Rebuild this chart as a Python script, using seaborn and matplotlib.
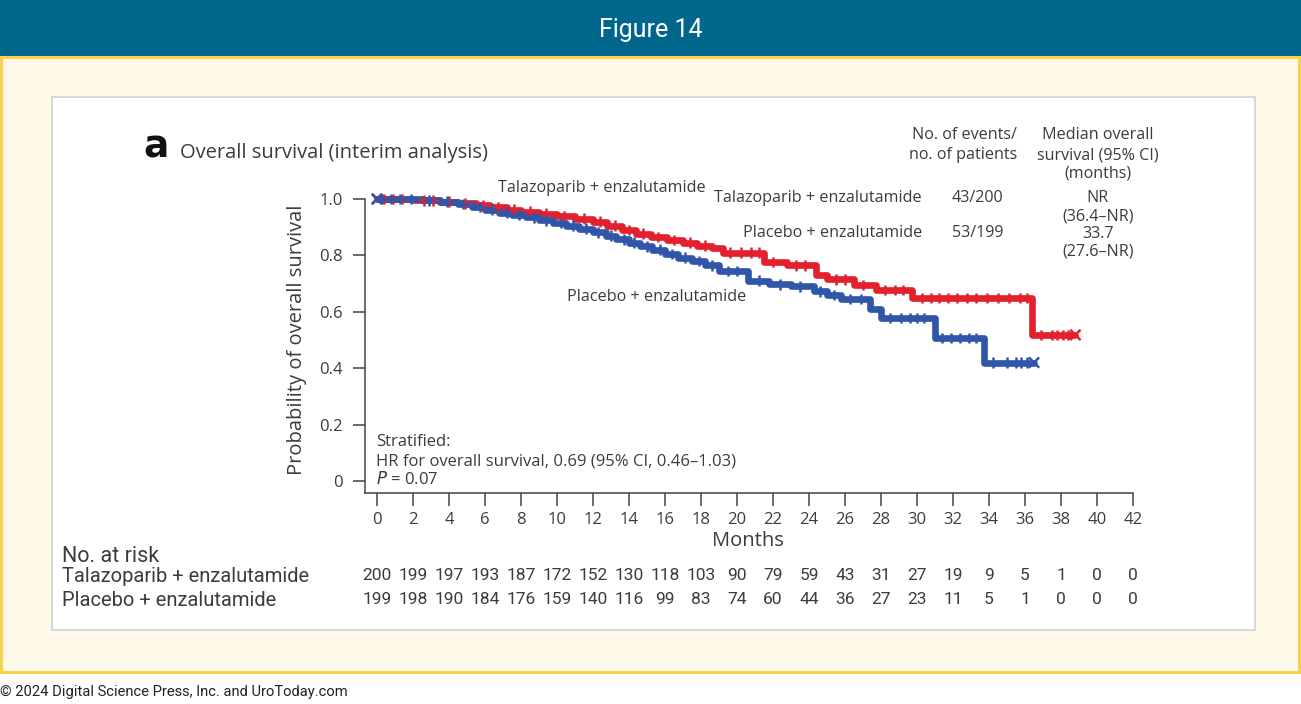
import numpy as np
import pandas as pd
import matplotlib
matplotlib.use("Agg")
import matplotlib.pyplot as plt
import matplotlib.transforms as mtransforms
from matplotlib.patches import Rectangle
import seaborn as sns

# ---------------------------------------------------------
# Data
# ---------------------------------------------------------
arms = ["Talazoparib + enzalutamide", "Placebo + enzalutamide"]

# Kaplan-Meier steps (month, survival) for each arm
tal_time = [0, 2.0, 3.5, 4.5, 5.5, 6.3, 7.2, 8.0, 9.0, 10.0, 11.0, 12.0, 12.8, 13.6,
            14.4, 15.2, 16.1, 17.0, 17.8, 18.6, 19.2, 21.5, 22.8, 24.4, 25.0, 26.5,
            27.7, 29.7, 36.4]
tal_surv = [1.0, 0.995, 0.99, 0.985, 0.978, 0.97, 0.962, 0.955, 0.948, 0.94, 0.93,
            0.92, 0.905, 0.89, 0.877, 0.865, 0.855, 0.845, 0.835, 0.825, 0.81, 0.777,
            0.765, 0.73, 0.715, 0.695, 0.677, 0.649, 0.518]
tal_end = 38.8

pla_time = [0, 2.5, 3.5, 4.5, 5.3, 6.0, 6.8, 7.5, 8.3, 9.0, 9.8, 10.5, 11.2, 12.0,
            12.7, 13.3, 14.0, 14.6, 15.3, 16.0, 16.7, 17.5, 18.2, 19.0, 20.6, 21.8,
            23.0, 24.3, 25.0, 25.8, 27.4, 28.0, 31.0, 33.7]
pla_surv = [1.0, 0.995, 0.99, 0.982, 0.972, 0.962, 0.952, 0.944, 0.935, 0.925, 0.915,
            0.905, 0.895, 0.882, 0.87, 0.857, 0.845, 0.832, 0.82, 0.805, 0.792, 0.78,
            0.765, 0.745, 0.71, 0.697, 0.69, 0.672, 0.66, 0.645, 0.61, 0.578, 0.507,
            0.42]
pla_end = 36.5

# censoring ticks
tal_censor = [0.4, 0.9, 1.4, 2.6, 3.1, 4.0, 4.9, 5.9, 6.7, 7.6, 8.5, 9.4, 10.4, 11.5,
              12.4, 13.2, 14.0, 14.8, 15.6, 16.5, 17.4, 18.2, 19.6, 20.2, 20.8, 21.2,
              22.0, 23.3, 23.8, 25.5, 26.0, 27.0, 28.2, 28.8, 29.2, 30.3, 30.8, 31.2,
              31.7, 32.2, 32.8, 33.3, 33.9, 34.5, 35.1, 35.7, 36.1, 36.9, 37.5, 37.8,
              38.1, 38.4]
pla_censor = [0.3, 0.8, 1.3, 1.9, 2.9, 3.9, 4.8, 5.7, 6.4, 7.2, 7.9, 8.7, 9.4, 10.2,
              10.9, 11.6, 12.3, 13.0, 13.7, 14.3, 15.0, 15.7, 16.4, 17.1, 17.9, 18.6,
              19.5, 20.0, 21.2, 22.4, 23.5, 24.6, 25.4, 26.3, 26.9, 28.5, 29.1, 29.6,
              30.0, 30.4, 31.4, 31.9, 32.4, 32.9, 33.3, 34.2, 35.0, 35.5, 35.8, 36.1]

# number at risk
risk_months = list(range(0, 43, 2))
risk_tal = [200, 199, 197, 193, 187, 172, 152, 130, 118, 103, 90, 79, 59, 43, 31, 27,
            19, 9, 5, 1, 0, 0]
risk_pla = [199, 198, 190, 184, 176, 159, 140, 116, 99, 83, 74, 60, 44, 36, 27, 23,
            11, 5, 1, 0, 0, 0]

y_ticks = [0, 0.2, 0.4, 0.6, 0.8, 1.0]
y_ticklabels = ["0", "0.2", "0.4", "0.6", "0.8", "1.0"]

colors = {arms[0]: "#E3202E", arms[1]: "#2F56A8"}
TXT = "#3c3c3c"

# ---------------------------------------------------------
# Build long-form tables
# ---------------------------------------------------------
curves = []
cens = []
ends = []
for arm, t, s, tend, cz in [(arms[0], tal_time, tal_surv, tal_end, tal_censor),
                            (arms[1], pla_time, pla_surv, pla_end, pla_censor)]:
    tt = list(t) + [tend]
    ss = list(s) + [s[-1]]
    curves.append(pd.DataFrame({"month": tt, "surv": ss, "arm": arm}))
    idx = np.searchsorted(t, cz, side="right") - 1
    cens.append(pd.DataFrame({"month": cz, "surv": np.array(s)[idx], "arm": arm}))
    ends.append(pd.DataFrame({"month": [t[0], tend], "surv": [s[0], s[-1]], "arm": arm}))
curve_df = pd.concat(curves, ignore_index=True)
cens_df = pd.concat(cens, ignore_index=True)
end_df = pd.concat(ends, ignore_index=True)

# ---------------------------------------------------------
# Figure
# ---------------------------------------------------------
sns.set_theme(style="ticks")
plt.rcParams["font.family"] = ["Open Sans", "DejaVu Sans"]

W, H = 1301, 704
fig = plt.figure(figsize=(W / 100, H / 100), dpi=100)
fig.patch.set_facecolor("white")


def px_rect(x0, y0, x1, y1, **kw):
    fig.patches.append(Rectangle((x0 / W, 1 - y1 / H), (x1 - x0) / W, (y1 - y0) / H,
                                 transform=fig.transFigure, figure=fig, zorder=-10, **kw))


def ftxt(x, y, s, **kw):
    kw.setdefault("va", "center")
    kw.setdefault("color", TXT)
    return fig.text(x / W, 1 - y / H, s, **kw)


narrow = ["Roboto", "DejaVu Sans"]

# page frame
px_rect(0, 0, 1301, 56, facecolor="#00668B", edgecolor="none")
px_rect(1, 57, 1299, 672, facecolor="#FFF9EA", edgecolor="#F8D24C", lw=2.2)
px_rect(52, 97, 1255, 630, facecolor="white", edgecolor="#D2D2D2", lw=1.2)
ftxt(651, 30, "Figure 14", ha="center", color="white", fontsize=18, family=narrow)
ftxt(0, 692, "\u00a9 2024 Digital Science Press, Inc. and UroToday.com", ha="left",
     color="#222222", fontsize=10.6, family=narrow)

# axes: pixel geometry
x0_px, x1_px, yb_px, yt_px = 365, 1140, 493, 185
ax = fig.add_axes([x0_px / W, 1 - yb_px / H, (x1_px - x0_px) / W, (yb_px - yt_px) / H])
ax.patch.set_alpha(0)
px_per_month = 18.0
px_per_unit = 282.0
xlo = (x0_px - 377) / px_per_month
xhi = (x1_px - 377) / px_per_month
ylo = (481 - yb_px) / px_per_unit
yhi = (481 - yt_px) / px_per_unit

sns.lineplot(data=curve_df, x="month", y="surv", hue="arm", palette=colors,
             drawstyle="steps-post", estimator=None, sort=False, lw=4.8,
             legend=False, ax=ax)
sns.scatterplot(data=cens_df, x="month", y="surv", hue="arm", palette=colors,
                marker="+", s=60, linewidth=1.8, legend=False, ax=ax, zorder=3)
sns.scatterplot(data=end_df, x="month", y="surv", hue="arm", palette=colors,
                marker="x", s=55, linewidth=1.8, legend=False, ax=ax, zorder=3)

ax.set_xlim(xlo, xhi)
ax.set_ylim(ylo, yhi)
sns.despine(ax=ax)
ax.spines["left"].set_bounds(ylo, 1.0)
ax.spines["bottom"].set_bounds(xlo, 42)
for sp in ("left", "bottom"):
    ax.spines[sp].set_color("#444444")
    ax.spines[sp].set_linewidth(1.1)
ax.set_xticks(risk_months)
ax.set_xticklabels([str(m) for m in risk_months])
ax.set_yticks(y_ticks)
ax.set_yticklabels(y_ticklabels)
ax.tick_params(axis="both", length=9, width=1.1, color="#444444", labelcolor=TXT,
               labelsize=12)
ax.tick_params(axis="x", pad=5)
ax.tick_params(axis="y", pad=7)
ax.set_xlabel("")
ax.set_ylabel("")

ftxt(748, 541, "Months", ha="center", fontsize=14.5)
ftxt(297, 340, "Probability of overall survival", ha="center", rotation=90, fontsize=14.5)

# titles
ftxt(143, 148, "a", ha="left", fontsize=27, fontweight="bold", color="#111111",
     family=["DejaVu Sans"])
ftxt(180, 153, "Overall survival (interim analysis)", ha="left", fontsize=14.5)

# header table
fs = 11.6
ftxt(1017, 135, "No. of events/", ha="right", fontsize=fs)
ftxt(1017, 155, "no. of patients", ha="right", fontsize=fs)
ftxt(1098, 135, "Median overall", ha="center", fontsize=fs)
ftxt(1098, 155, "survival (95% CI)", ha="center", fontsize=fs)
ftxt(1098, 174, "(months)", ha="center", fontsize=fs)
ftxt(922, 198, arms[0], ha="right", fontsize=fs)
ftxt(952, 198, "43/200", ha="left", fontsize=fs)
ftxt(1098, 198, "NR", ha="center", fontsize=fs)
ftxt(1098, 216, "(36.4\u2013NR)", ha="center", fontsize=fs)
ftxt(922, 233, arms[1], ha="right", fontsize=fs)
ftxt(952, 233, "53/199", ha="left", fontsize=fs)
ftxt(1098, 234, "33.7", ha="center", fontsize=fs)
ftxt(1098, 252, "(27.6\u2013NR)", ha="center", fontsize=fs)

# curve labels
ftxt(602, 188, arms[0], ha="center", fontsize=fs)
ftxt(657, 297, arms[1], ha="center", fontsize=fs)

# stratified note
ftxt(376, 442, "Stratified:", ha="left", fontsize=12)
ftxt(376, 461, "HR for overall survival, 0.69 (95% CI, 0.46\u20131.03)", ha="left", fontsize=12)
ftxt(376, 480, "$\\it{P}$ = 0.07", ha="left", fontsize=12)

# number at risk table
trans = mtransforms.blended_transform_factory(ax.transData, fig.transFigure)
ftxt(62, 556, "No. at risk", ha="left", fontsize=15.5, family=narrow)
for label, row, ypx in [(arms[0], risk_tal, 576), (arms[1], risk_pla, 600)]:
    ftxt(62, ypx, label, ha="left", fontsize=14.5, family=narrow)
    for m, n in zip(risk_months, row):
        ax.text(m, 1 - ypx / H, str(n), transform=trans, ha="center", va="center",
                fontsize=12.5, color=TXT, family=narrow, clip_on=False)

fig.savefig("out.png", dpi=100, facecolor=fig.get_facecolor())
